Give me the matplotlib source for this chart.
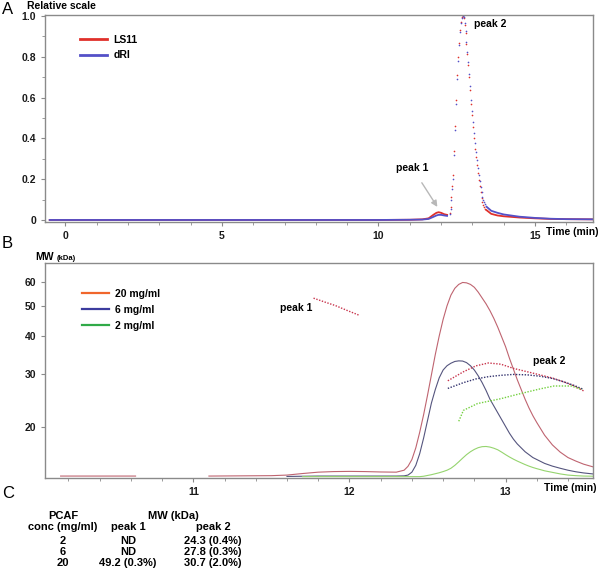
import numpy as np
import matplotlib
matplotlib.use("Agg")
import matplotlib.pyplot as plt
from matplotlib.lines import Line2D
from matplotlib.ticker import FixedLocator, MultipleLocator, NullLocator

plt.rcParams['font.family'] = ['Liberation Sans', 'DejaVu Sans']
plt.rcParams['font.weight'] = 'bold'

# ---- panel A: relative scale chromatogram
time_A = [-0.5, 2, 5, 8, 10, 11.0, 11.4, 11.6, 11.75, 11.85, 11.92, 12.0, 12.1, 12.19,
          12.27, 12.30, 12.33, 12.36, 12.39, 12.42, 12.45, 12.48, 12.51, 12.54, 12.57,
          12.60, 12.63, 12.66, 12.69, 12.72, 12.75, 12.78, 12.81, 12.84, 12.87, 12.90,
          12.93, 12.96, 12.99, 13.02, 13.05, 13.08, 13.11, 13.14, 13.17, 13.20, 13.23,
          13.26, 13.29, 13.32, 13.35, 13.38, 13.41,
          13.45, 13.6, 13.8, 14.0, 14.5, 15.0, 15.5, 16.0, 16.85]
ls11 = [0.0, 0.0, 0.0, 0.0, 0.0, 0.001, 0.003, 0.008, 0.025, 0.035, 0.038, 0.035, 0.028, 0.025,
        0.035, 0.065, 0.115, 0.165, 0.22, 0.34, 0.46, 0.59, 0.71, 0.80, 0.87,
        0.93, 0.97, 0.995, 1.0, 0.99, 0.955, 0.915, 0.865, 0.815, 0.76, 0.70,
        0.635, 0.57, 0.515, 0.455, 0.40, 0.35, 0.31, 0.27, 0.23, 0.195, 0.165,
        0.135, 0.11, 0.09, 0.075, 0.065, 0.056,
        0.048, 0.03, 0.022, 0.018, 0.012, 0.008, 0.005, 0.004, 0.003]
dri = [0.0, 0.0, 0.0, 0.0, 0.0, 0.001, 0.002, 0.005, 0.015, 0.022, 0.025, 0.025, 0.022, 0.02,
       0.028, 0.055, 0.10, 0.15, 0.20, 0.32, 0.44, 0.57, 0.69, 0.78, 0.86,
       0.92, 0.965, 0.99, 1.0, 0.995, 0.965, 0.925, 0.875, 0.825, 0.775, 0.715,
       0.655, 0.59, 0.535, 0.48, 0.425, 0.375, 0.335, 0.295, 0.255, 0.22, 0.19,
       0.16, 0.135, 0.115, 0.10, 0.087, 0.076,
       0.065, 0.045, 0.035, 0.027, 0.016, 0.01, 0.006, 0.004, 0.003]

# ---- panel B: detector traces (relative) and molar mass (kDa)
time_B = [10.15, 10.63, 10.9, 11.10, 11.50, 11.60, 11.70, 11.80, 11.90, 12.00, 12.10, 12.20,
          12.30, 12.35, 12.375, 12.40, 12.425, 12.45, 12.475, 12.50, 12.525, 12.55, 12.575,
          12.60, 12.625, 12.65, 12.675, 12.70, 12.725, 12.75, 12.775, 12.80, 12.825, 12.85,
          12.875, 12.90, 12.925, 12.95, 12.975, 13.00, 13.025, 13.05, 13.075, 13.10, 13.125,
          13.15, 13.175, 13.20, 13.25, 13.30, 13.35, 13.40, 13.45, 13.50, 13.57]
sig_20 = [0.005, 0.005, np.nan, 0.005, 0.007, 0.010, 0.018, 0.025, 0.028, 0.029, 0.028, 0.026,
          0.025, 0.035, 0.055, 0.09, 0.15, 0.23, 0.32, 0.42, 0.525, 0.63, 0.725,
          0.81, 0.88, 0.935, 0.97, 0.99, 1.0, 0.998, 0.99, 0.975, 0.95, 0.92,
          0.89, 0.855, 0.815, 0.77, 0.72, 0.67, 0.61, 0.555, 0.50, 0.45, 0.40,
          0.355, 0.315, 0.28, 0.215, 0.165, 0.128, 0.10, 0.082, 0.066, 0.05]
sig_6 = [np.nan, np.nan, np.nan, np.nan, np.nan, 0.003, 0.004, 0.005, 0.005, 0.005, 0.005, 0.005,
         0.005, 0.006, 0.01, 0.025, 0.06, 0.12, 0.20, 0.29, 0.38, 0.45, 0.51,
         0.55, 0.572, 0.585, 0.594, 0.597, 0.596, 0.588, 0.572, 0.55, 0.52, 0.485,
         0.445, 0.40, 0.365, 0.33, 0.295, 0.26, 0.225, 0.195, 0.17, 0.15, 0.13,
         0.115, 0.10, 0.09, 0.07, 0.056, 0.045, 0.035, 0.027, 0.021, 0.015]
sig_2 = [np.nan, np.nan, np.nan, np.nan, np.nan, np.nan, 0.002, 0.002, 0.002, 0.002, 0.002, 0.002,
         0.002, 0.002, 0.002, 0.002, 0.002, 0.002, 0.004, 0.008, 0.012, 0.017, 0.022,
         0.028, 0.035, 0.045, 0.06, 0.078, 0.097, 0.115, 0.13, 0.142, 0.151, 0.156,
         0.157, 0.154, 0.148, 0.14, 0.128, 0.115, 0.103, 0.092, 0.082, 0.073, 0.064,
         0.056, 0.049, 0.043, 0.032, 0.024, 0.016, 0.01, 0.007, 0.005, 0.004]

mw_t_p1 = [11.77, 11.84, 11.91, 11.98, 12.06]
mw_20_p1 = [53.1, 51.6, 50.2, 48.5, 46.7]
mw_t_p2 = [12.63, 12.73, 12.81, 12.89, 12.97, 13.05, 13.14, 13.22, 13.30, 13.37, 13.44, 13.50]
mw_20_p2 = [28.4, 30.4, 31.8, 32.5, 32.2, 31.2, 30.4, 29.7, 29.0, 28.2, 27.3, 26.3]
mw_6_p2 = [26.8, 28.0, 28.8, 29.3, 29.6, 29.8, 29.7, 29.4, 28.9, 28.2, 27.4, 26.6]
mw_t_2 = [12.70, 12.73, 12.82, 12.97, 13.06, 13.14, 13.22, 13.31, 13.42, 13.49]
mw_2_p2 = [20.9, 22.7, 23.9, 24.8, 25.5, 26.1, 26.7, 27.3, 27.3, 26.6]

# ---- panel C table
conc = ['2', '6', '20']
peak1 = ['ND', 'ND', '49.2 (0.3%)']
peak2 = ['24.3 (0.4%)', '27.8 (0.3%)', '30.7 (2.0%)']

W, H = 600, 580
fig = plt.figure(figsize=(6, 5.8), dpi=100)
fs = 7.5
grey = '#8a8a8a'


def style(ax):
    for s in ax.spines.values():
        s.set_color(grey)
        s.set_linewidth(1.0)
    ax.tick_params(which='both', colors=grey, labelcolor='#1a1a1a', labelsize=fs, direction='out')
    ax.tick_params(which='major', length=3, width=0.8)
    ax.tick_params(which='minor', length=2, width=0.6)


# ---------------- A
axA = fig.add_axes([45 / W, 1 - 222 / H, 548 / W, 207 / H])
style(axA)
tA = np.array(time_A)
dense = (tA > 12.26) & (tA < 13.42)
for y, c in [(ls11, '#e0302a'), (dri, '#5450c8')]:
    y = np.array(y)
    axA.plot(tA, np.where(dense, np.nan, y), color=c, lw=1.3)
    axA.plot(tA[dense], y[dense], ls='none', marker='o', ms=1.2, mew=0, color=c)
axA.set_xlim(-0.65, 16.85)
axA.set_ylim(-0.01, 1.005)
axA.xaxis.set_major_locator(FixedLocator([0, 5, 10, 15]))
axA.xaxis.set_minor_locator(MultipleLocator(1))
axA.yaxis.set_major_locator(FixedLocator([0, 0.2, 0.4, 0.6, 0.8, 1.0]))
axA.yaxis.set_minor_locator(MultipleLocator(0.1))
axA.set_yticklabels(['0', '0.2', '0.4', '0.6', '0.8', '1.0'])
axA.legend(handles=[Line2D([], [], color='#e0302a', lw=2), Line2D([], [], color='#5450c8', lw=2)],
           labels=['LS11', 'dRI'], loc='upper left', bbox_to_anchor=(0.055, 0.93),
           frameon=False, fontsize=fs, handlelength=2.6, borderpad=0, labelspacing=0.55,
           handletextpad=0.6)
axA.text(13.57, 0.96, 'peak 2', fontsize=fs, ha='center', va='center')
axA.annotate('peak 1', xy=(11.88, 0.064), xytext=(11.08, 0.255), fontsize=fs, ha='center',
             va='center', arrowprops=dict(arrowstyle='-|>', color='#b8b8b8', lw=1.0,
                                          shrinkA=6, shrinkB=0, mutation_scale=9))
fig.text(27 / W, 1 - 6 / H, 'Relative scale', fontsize=fs, ha='left', va='center')
fig.text(598 / W, 1 - 232 / H, 'Time (min)', fontsize=fs, ha='right', va='center')

# ---------------- B
axB = fig.add_axes([45 / W, 1 - 478 / H, 548 / W, 215 / H])
style(axB)
axB.set_yscale('log')
axB.set_ylim(13.6, 69.3)
axB.set_xlim(10.05, 13.56)
axB.yaxis.set_major_locator(FixedLocator([20, 30, 40, 50, 60]))
axB.yaxis.set_minor_locator(NullLocator())
axB.set_yticklabels(['20', '30', '40', '50', '60'])
axB.xaxis.set_major_locator(FixedLocator([11, 12, 13]))
axB.xaxis.set_minor_locator(MultipleLocator(0.2))

ax2 = axB.twinx()
ax2.set_ylim(-0.005, 1.10)
ax2.set_yticks([])
for s in ax2.spines.values():
    s.set_visible(False)
ax2.plot(time_B, sig_20, color='#bf6470', lw=0.8)
ax2.plot(time_B, sig_6, color='#55557e', lw=0.8)
ax2.plot(time_B, sig_2, color='#95d46e', lw=0.8)

dots = (0, (1, 1.1))
axB.plot(mw_t_p1, mw_20_p1, color='#c8344c', lw=1.0, ls=dots)
axB.plot(mw_t_p2, mw_20_p2, color='#c8344c', lw=1.0, ls=dots)
axB.plot(mw_t_p2, mw_6_p2, color='#33336e', lw=1.0, ls=dots)
axB.plot(mw_t_2, mw_2_p2, color='#74d040', lw=1.0, ls=dots)
axB.set_zorder(ax2.get_zorder() + 1)
axB.patch.set_visible(False)

axB.legend(handles=[Line2D([], [], color='#f0662c', lw=1.6), Line2D([], [], color='#3c3c9e', lw=1.6),
                    Line2D([], [], color='#30aa48', lw=1.6)],
           labels=['20 mg/ml', '6 mg/ml', '2 mg/ml'], loc='upper left',
           bbox_to_anchor=(0.058, 0.905), frameon=False, fontsize=fs, handlelength=2.6,
           borderpad=0, labelspacing=0.6, handletextpad=0.6)
axB.text(11.66, 49.2, 'peak 1', fontsize=fs, ha='center', va='center')
axB.text(13.28, 33.0, 'peak 2', fontsize=fs, ha='center', va='center')
fig.text(35 / W, 1 - 257 / H, 'MW', fontsize=fs, ha='left', va='center')
fig.text(57 / W, 1 - 258 / H, '(kDa)', fontsize=5.5, ha='left', va='center')
fig.text(596 / W, 1 - 488 / H, 'Time (min)', fontsize=fs, ha='right', va='center')

# ---------------- panel letters
for lab, y in [('A', 9), ('B', 244), ('C', 494)]:
    fig.text(2 / W, 1 - y / H, lab, fontsize=12, fontweight='normal', ha='left', va='center')

# ---------------- C table
fs_t = 8


def row(y, cells, xs=(63, 128, 213)):
    for x, s in zip(xs, cells):
        fig.text(x / W, 1 - y / H, s, fontsize=fs_t, ha='center', va='center')


fig.text(63 / W, 1 - 516 / H, 'PCAF', fontsize=fs_t, ha='center', va='center')
fig.text(173 / W, 1 - 516 / H, 'MW (kDa)', fontsize=fs_t, ha='center', va='center')
row(527.5, ['conc (mg/ml)', 'peak 1', 'peak 2'])
for i in range(len(conc)):
    row(540.5 + 11.5 * i, [conc[i], peak1[i], peak2[i]])

fig.savefig('out.png', dpi=100)
